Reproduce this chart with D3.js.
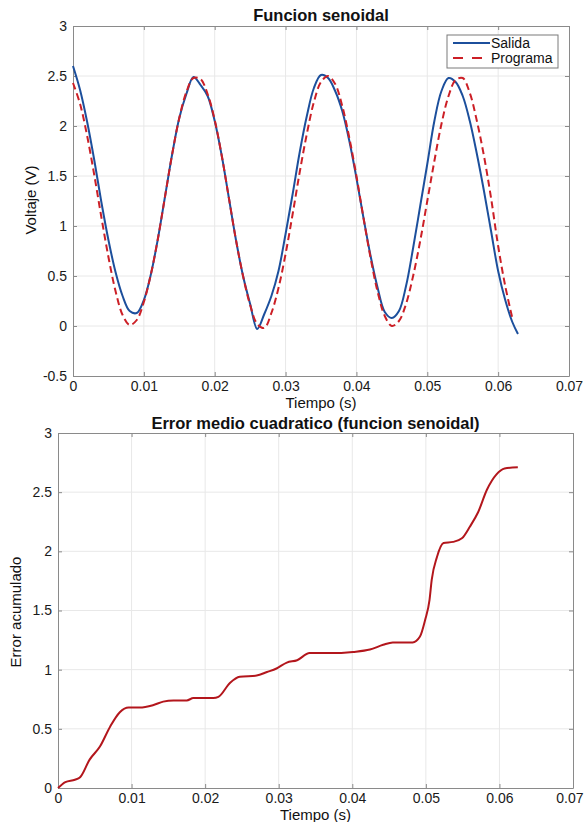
<!DOCTYPE html>
<html>
<head>
<meta charset="utf-8">
<script src="https://cdn.jsdelivr.net/npm/d3@7"></script>
<style>
  body { margin: 0; background: #fff; }
  svg { display: block; font-family: "Liberation Sans", Arial, sans-serif; }
</style>
</head>
<body>
<div class="chart"></div>
<script>
// tiempo (s) for the first panel
const tiempo = [0, 0.001, 0.002, 0.003, 0.004, 0.005, 0.006, 0.007, 0.008, 0.009,
  0.010, 0.011, 0.012, 0.013, 0.014, 0.015, 0.016, 0.017, 0.018, 0.019,
  0.020, 0.021, 0.022, 0.023, 0.024, 0.025, 0.026, 0.027, 0.028, 0.029,
  0.030, 0.031, 0.032, 0.033, 0.034, 0.035, 0.036, 0.037, 0.038, 0.039,
  0.040, 0.041, 0.042, 0.043, 0.044, 0.045, 0.046, 0.047, 0.048, 0.049,
  0.050, 0.051, 0.052, 0.053, 0.054, 0.055, 0.056, 0.057, 0.058, 0.059,
  0.060, 0.061, 0.062, 0.0628];

const salida = [2.60, 2.36, 2.04, 1.66, 1.24, 0.86, 0.54, 0.30, 0.15, 0.13,
  0.26, 0.52, 0.88, 1.30, 1.72, 2.08, 2.32, 2.49, 2.41, 2.30,
  2.05, 1.70, 1.28, 0.86, 0.50, 0.22, -0.03, 0.12, 0.30, 0.55,
  0.92, 1.32, 1.74, 2.10, 2.38, 2.51, 2.48, 2.35, 2.15, 1.85,
  1.48, 1.08, 0.70, 0.38, 0.14, 0.08, 0.15, 0.40, 0.78, 1.20,
  1.62, 2.05, 2.35, 2.48, 2.44, 2.30, 2.05, 1.72, 1.35, 0.95,
  0.55, 0.26, 0.04, -0.08];

const programa = [2.43, 2.22, 1.90, 1.51, 1.09, 0.69, 0.35, 0.11, 0.01, 0.06,
  0.24, 0.52, 0.88, 1.30, 1.72, 2.08, 2.34, 2.48, 2.47, 2.32,
  2.06, 1.70, 1.28, 0.86, 0.50, 0.21, 0.02, -0.02, 0.13, 0.38,
  0.72, 1.12, 1.54, 1.92, 2.24, 2.44, 2.50, 2.42, 2.20, 1.88,
  1.50, 1.08, 0.68, 0.34, 0.10, 0.00, 0.05, 0.22, 0.50, 0.85,
  1.25, 1.65, 2.02, 2.30, 2.46, 2.48, 2.33, 2.05, 1.70, 1.28,
  0.80, 0.40, 0.08];

// second panel: accumulated error
const tiempoError = [0, 0.001, 0.0023, 0.003, 0.0043, 0.0057, 0.0071, 0.0084, 0.0096, 0.0111,
  0.0129, 0.0143, 0.0157, 0.0175, 0.0184, 0.0211, 0.0218, 0.0234, 0.0247, 0.027,
  0.0284, 0.0297, 0.0311, 0.0325, 0.0342, 0.0369, 0.0401, 0.0424, 0.0442, 0.0455,
  0.0482, 0.0492, 0.0499, 0.0505, 0.0508, 0.0515, 0.0524, 0.0537, 0.0549, 0.056,
  0.0571, 0.0583, 0.0596, 0.0607, 0.0625];

const errorAcumulado = [0, 0.05, 0.07, 0.09, 0.24, 0.35, 0.52, 0.64, 0.68, 0.68,
  0.70, 0.73, 0.74, 0.74, 0.76, 0.76, 0.77, 0.89, 0.94, 0.95,
  0.98, 1.01, 1.06, 1.08, 1.14, 1.14, 1.15, 1.17, 1.21, 1.23,
  1.23, 1.28, 1.42, 1.59, 1.76, 1.95, 2.07, 2.08, 2.11, 2.21,
  2.33, 2.52, 2.65, 2.70, 2.71];

const xTicks = [0, 0.01, 0.02, 0.03, 0.04, 0.05, 0.06, 0.07];
const yTicksTop = [-0.5, 0, 0.5, 1, 1.5, 2, 2.5, 3];
const yTicksBottom = [0, 0.5, 1, 1.5, 2, 2.5, 3];

const W = 584, H = 822;
const svg = d3.select(".chart").append("svg")
    .attr("width", W)
    .attr("height", H);

// matlab prints plain minus signs
function fmt(d) { return String(+d.toFixed(3)); }

function panel(box, yDomain, yTicks, title, yLabel) {
    const x = d3.scaleLinear().domain([0, 0.07]).range([box.left, box.right]);
    const y = d3.scaleLinear().domain(yDomain).range([box.bottom, box.top]);
    const g = svg.append("g");
    const cx = (box.left + box.right) / 2;

    // grid
    g.append("g").selectAll("line").data(xTicks.slice(1, -1)).join("line")
        .attr("x1", d => x(d)).attr("x2", d => x(d))
        .attr("y1", box.top).attr("y2", box.bottom)
        .attr("stroke", "#e8e8e8");
    g.append("g").selectAll("line").data(yTicks.slice(1, -1)).join("line")
        .attr("y1", d => y(d)).attr("y2", d => y(d))
        .attr("x1", box.left).attr("x2", box.right)
        .attr("stroke", "#e8e8e8");

    // axes, ticks pointing inward on all four sides
    const ax = (gen, tr) => g.append("g")
        .attr("transform", tr)
        .call(gen)
        .call(s => s.selectAll(".domain").attr("stroke", "#8a8a8a"))
        .call(s => s.selectAll(".tick line").attr("stroke", "#8a8a8a"))
        .call(s => s.selectAll("text").attr("fill", "#1a1a1a").attr("font-size", 14));

    const xAxisGroup = ax(d3.axisBottom(x).tickValues(xTicks).tickSizeInner(-4).tickSizeOuter(0).tickPadding(5).tickFormat(fmt),
        `translate(0,${box.bottom})`);
    ax(d3.axisLeft(y).tickValues(yTicks).tickSizeInner(-4).tickSizeOuter(0).tickPadding(6).tickFormat(fmt),
        `translate(${box.left},0)`);
    ax(d3.axisTop(x).tickValues(xTicks).tickSizeInner(-4).tickSizeOuter(0).tickFormat(""),
        `translate(0,${box.top})`);
    ax(d3.axisRight(y).tickValues(yTicks).tickSizeInner(-4).tickSizeOuter(0).tickFormat(""),
        `translate(${box.right},0)`);

    // keep the last label inside the page
    xAxisGroup.selectAll(".tick text")
        .filter(d => d === 0.07)
        .each(function() {
            const over = x(0.07) + this.getComputedTextLength() / 2 - (W - 1);
            if (over > 0) d3.select(this).attr("dx", -over);
        });

    g.append("text")
        .attr("x", cx)
        .attr("y", box.titleY)
        .attr("text-anchor", "middle")
        .attr("font-size", 16.5)
        .attr("font-weight", "bold")
        .attr("fill", "#111")
        .text(title);

    g.append("text")
        .attr("x", cx)
        .attr("y", box.bottom + 32)
        .attr("text-anchor", "middle")
        .attr("font-size", 15)
        .attr("fill", "#111")
        .text("Tiempo (s)");

    g.append("text")
        .attr("transform", `translate(${box.yLabelX},${box.yLabelY}) rotate(-90)`)
        .attr("text-anchor", "middle")
        .attr("font-size", 15)
        .attr("fill", "#111")
        .text(yLabel);

    return {x, y, g};
}

// top panel
const p1 = panel({left: 73, right: 569, top: 26, bottom: 376, titleY: 21, yLabelX: 36, yLabelY: 200},
    [-0.5, 3], yTicksTop, "Funcion senoidal", "Voltaje (V)");

const datosSalida = tiempo.map((t, i) => ({t, v: salida[i]}));
const datosPrograma = programa.map((v, i) => ({t: tiempo[i], v}));

p1.g.append("path")
    .datum(datosSalida)
    .attr("fill", "none")
    .attr("stroke", "#1c4f9c")
    .attr("stroke-width", 2)
    .attr("stroke-linejoin", "round")
    .attr("d", d3.line().curve(d3.curveCatmullRom).x(d => p1.x(d.t)).y(d => p1.y(d.v)));

p1.g.append("path")
    .datum(datosPrograma)
    .attr("fill", "none")
    .attr("stroke", "#cc1f26")
    .attr("stroke-width", 2)
    .attr("stroke-dasharray", "7,4")
    .attr("d", d3.line().curve(d3.curveCatmullRom).x(d => p1.x(d.t)).y(d => p1.y(d.v)));

// legend
const leg = p1.g.append("g");
leg.append("rect")
    .attr("x", 447).attr("y", 35).attr("width", 111).attr("height", 33)
    .attr("fill", "#fff").attr("stroke", "#7a7a7a");
leg.append("line").attr("x1", 453).attr("x2", 490).attr("y1", 43).attr("y2", 43)
    .attr("stroke", "#1c4f9c").attr("stroke-width", 2);
leg.append("line").attr("x1", 453).attr("x2", 490).attr("y1", 58).attr("y2", 58)
    .attr("stroke", "#cc1f26").attr("stroke-width", 2).attr("stroke-dasharray", "10,9");
leg.append("text").attr("x", 491).attr("y", 48).attr("font-size", 14).attr("fill", "#111").text("Salida");
leg.append("text").attr("x", 491).attr("y", 63).attr("font-size", 14).attr("fill", "#111").text("Programa");

// bottom panel
const p2 = panel({left: 58, right: 573, top: 433, bottom: 788, titleY: 429, yLabelX: 21, yLabelY: 612},
    [0, 3], yTicksBottom, "Error medio cuadratico (funcion senoidal)", "Error acumulado");

p2.g.append("path")
    .datum(tiempoError.map((t, i) => ({t, v: errorAcumulado[i]})))
    .attr("fill", "none")
    .attr("stroke", "#b3161c")
    .attr("stroke-width", 2)
    .attr("d", d3.line().curve(d3.curveMonotoneX).x(d => p2.x(d.t)).y(d => p2.y(d.v)));
</script>
</body>
</html>
